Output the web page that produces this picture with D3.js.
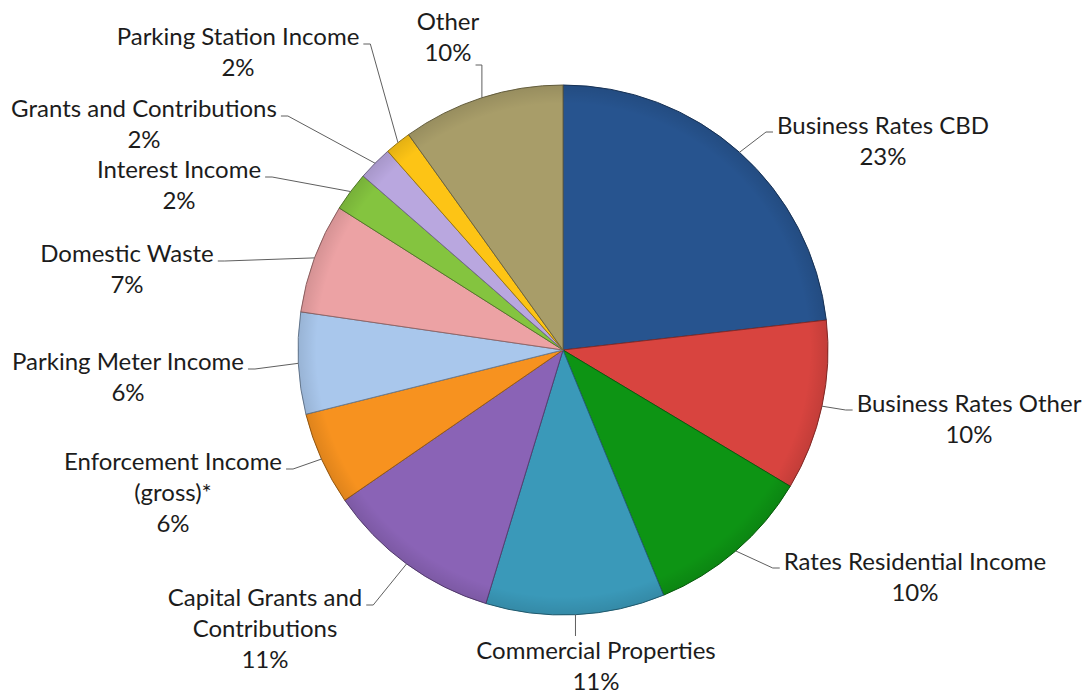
<!DOCTYPE html>
<html>
<head>
<meta charset="utf-8">
<script src="https://cdn.jsdelivr.net/npm/d3@7/dist/d3.min.js"></script>
<style>
  html, body { margin: 0; padding: 0; background: #ffffff; }
  svg { display: block; }
  .lbl { font-family: Lato, "Open Sans", sans-serif; fill: #1c1c1c; }
</style>
</head>
<body>
<svg id="chart" width="1085" height="695"></svg>
<script>
// Income categories, clockwise from 12 o'clock
const categories = [
  "Business Rates CBD",
  "Business Rates Other",
  "Rates Residential Income",
  "Commercial Properties",
  "Capital Grants and Contributions",
  "Enforcement Income (gross)*",
  "Parking Meter Income",
  "Domestic Waste",
  "Interest Income",
  "Grants and Contributions",
  "Parking Station Income",
  "Other"
];

// Share of total income (%)
const values = [23.2, 10.4, 10.2, 10.9, 10.7, 5.7, 6.2, 6.7, 2.4, 2.1, 1.6, 9.9];

// Label text lines (the percentage line is appended from the values)
const labelLines = [
  ["Business Rates CBD"],
  ["Business Rates Other"],
  ["Rates Residential Income"],
  ["Commercial Properties"],
  ["Capital Grants and", "Contributions"],
  ["Enforcement Income", "(gross)*"],
  ["Parking Meter Income"],
  ["Domestic Waste"],
  ["Interest Income"],
  ["Grants and Contributions"],
  ["Parking Station Income"],
  ["Other"]
];

const colors = [
  "#27548f", "#d8443f", "#0d9414", "#3a99b9", "#8a63b6", "#f7921f",
  "#a9c7ec", "#eca2a4", "#84c43f", "#b9a7df", "#fdc415", "#a89d69"
];

// Label placement: text centre x, first-line baseline y, and side the leader leaves from
const layout = [
  { x: 883, y: 134, side: "right" },
  { x: 969, y: 412, side: "right" },
  { x: 915, y: 570, side: "right" },
  { x: 596, y: 659, side: "below" },
  { x: 265, y: 606, side: "left" },
  { x: 173, y: 470, side: "left" },
  { x: 128, y: 370, side: "left" },
  { x: 127, y: 262, side: "left" },
  { x: 179, y: 178, side: "left" },
  { x: 144, y: 117, side: "left" },
  { x: 238, y: 45,  side: "left" },
  { x: 448, y: 30,  side: "above" }
];

const cx = 563, cy = 350, radius = 265;
const lineGap = 31, fontSize = 24;

const svg = d3.select("#chart");
const total = d3.sum(values);

const data = categories.map((c, i) => ({ name: c, value: values[i], i }));

const pie = d3.pie().value(d => d.value).sort(null);
const arcs = pie(data);

const arc = d3.arc().innerRadius(0).outerRadius(radius);
const edge = d3.arc().innerRadius(radius).outerRadius(radius);

const g = svg.append("g").attr("transform", `translate(${cx},${cy})`);

// soft darkening toward the rim of the pie
const defs = svg.append("defs");
const shade = defs.append("radialGradient")
  .attr("id", "shade").attr("gradientUnits", "userSpaceOnUse")
  .attr("cx", 0).attr("cy", 0).attr("r", radius);
shade.append("stop").attr("offset", "0.93").attr("stop-color", "#000").attr("stop-opacity", 0);
shade.append("stop").attr("offset", "1").attr("stop-color", "#000").attr("stop-opacity", 0.1);

g.selectAll("path.slice")
  .data(arcs)
  .join("path")
  .attr("class", "slice")
  .attr("d", arc)
  .attr("fill", d => colors[d.data.i])
  .attr("stroke", d => d3.color(colors[d.data.i]).darker(1.3))
  .attr("stroke-width", 1)
  .attr("stroke-linejoin", "round");

g.selectAll("path.rim")
  .data(arcs)
  .join("path")
  .attr("class", "rim")
  .attr("d", arc)
  .attr("fill", "url(#shade)")
  .attr("stroke", "none");

// labels: category name lines plus rounded percentage
const labels = svg.append("g")
  .selectAll("text")
  .data(arcs)
  .join("text")
  .attr("class", "lbl")
  .attr("font-size", fontSize)
  .attr("text-anchor", "middle");

labels.each(function (d) {
  const lines = labelLines[d.data.i].concat([Math.round(d.data.value / total * 100) + "%"]);
  const L = layout[d.data.i];
  d3.select(this).selectAll("tspan")
    .data(lines)
    .join("tspan")
    .attr("x", L.x)
    .attr("y", (t, k) => L.y + k * lineGap)
    .text(t => t);
});

// leader lines from the slice rim to the label
const leaders = svg.append("g");
labels.each(function (d) {
  const L = layout[d.data.i];
  const spans = d3.select(this).selectAll("tspan").nodes();
  const [ex, ey] = edge.centroid(d);
  const p0 = [cx + ex, cy + ey];
  let pts;
  if (L.side === "left") {
    const w = spans[0].getComputedTextLength();
    const end = [L.x + w / 2 + 4, L.y - 1];
    pts = [p0, [end[0] + 7, end[1]], end];
  } else if (L.side === "right") {
    const w = spans[0].getComputedTextLength();
    const end = [L.x - w / 2 - 4, L.y - 2];
    pts = [p0, [end[0] - 7, end[1]], end];
  } else if (L.side === "below") {
    pts = [p0, [p0[0], L.y - 23]];
  } else {
    const last = spans[spans.length - 1];
    const w = last.getComputedTextLength();
    const yl = L.y + (spans.length - 1) * lineGap + 4;
    pts = [p0, [p0[0], yl], [L.x + w / 2 + 4, yl]];
  }
  leaders.append("polyline")
    .attr("fill", "none")
    .attr("stroke", "#5f5f5f")
    .attr("stroke-width", 1)
    .attr("points", pts.map(p => p.join(",")).join(" "));
});
</script>
</body>
</html>
